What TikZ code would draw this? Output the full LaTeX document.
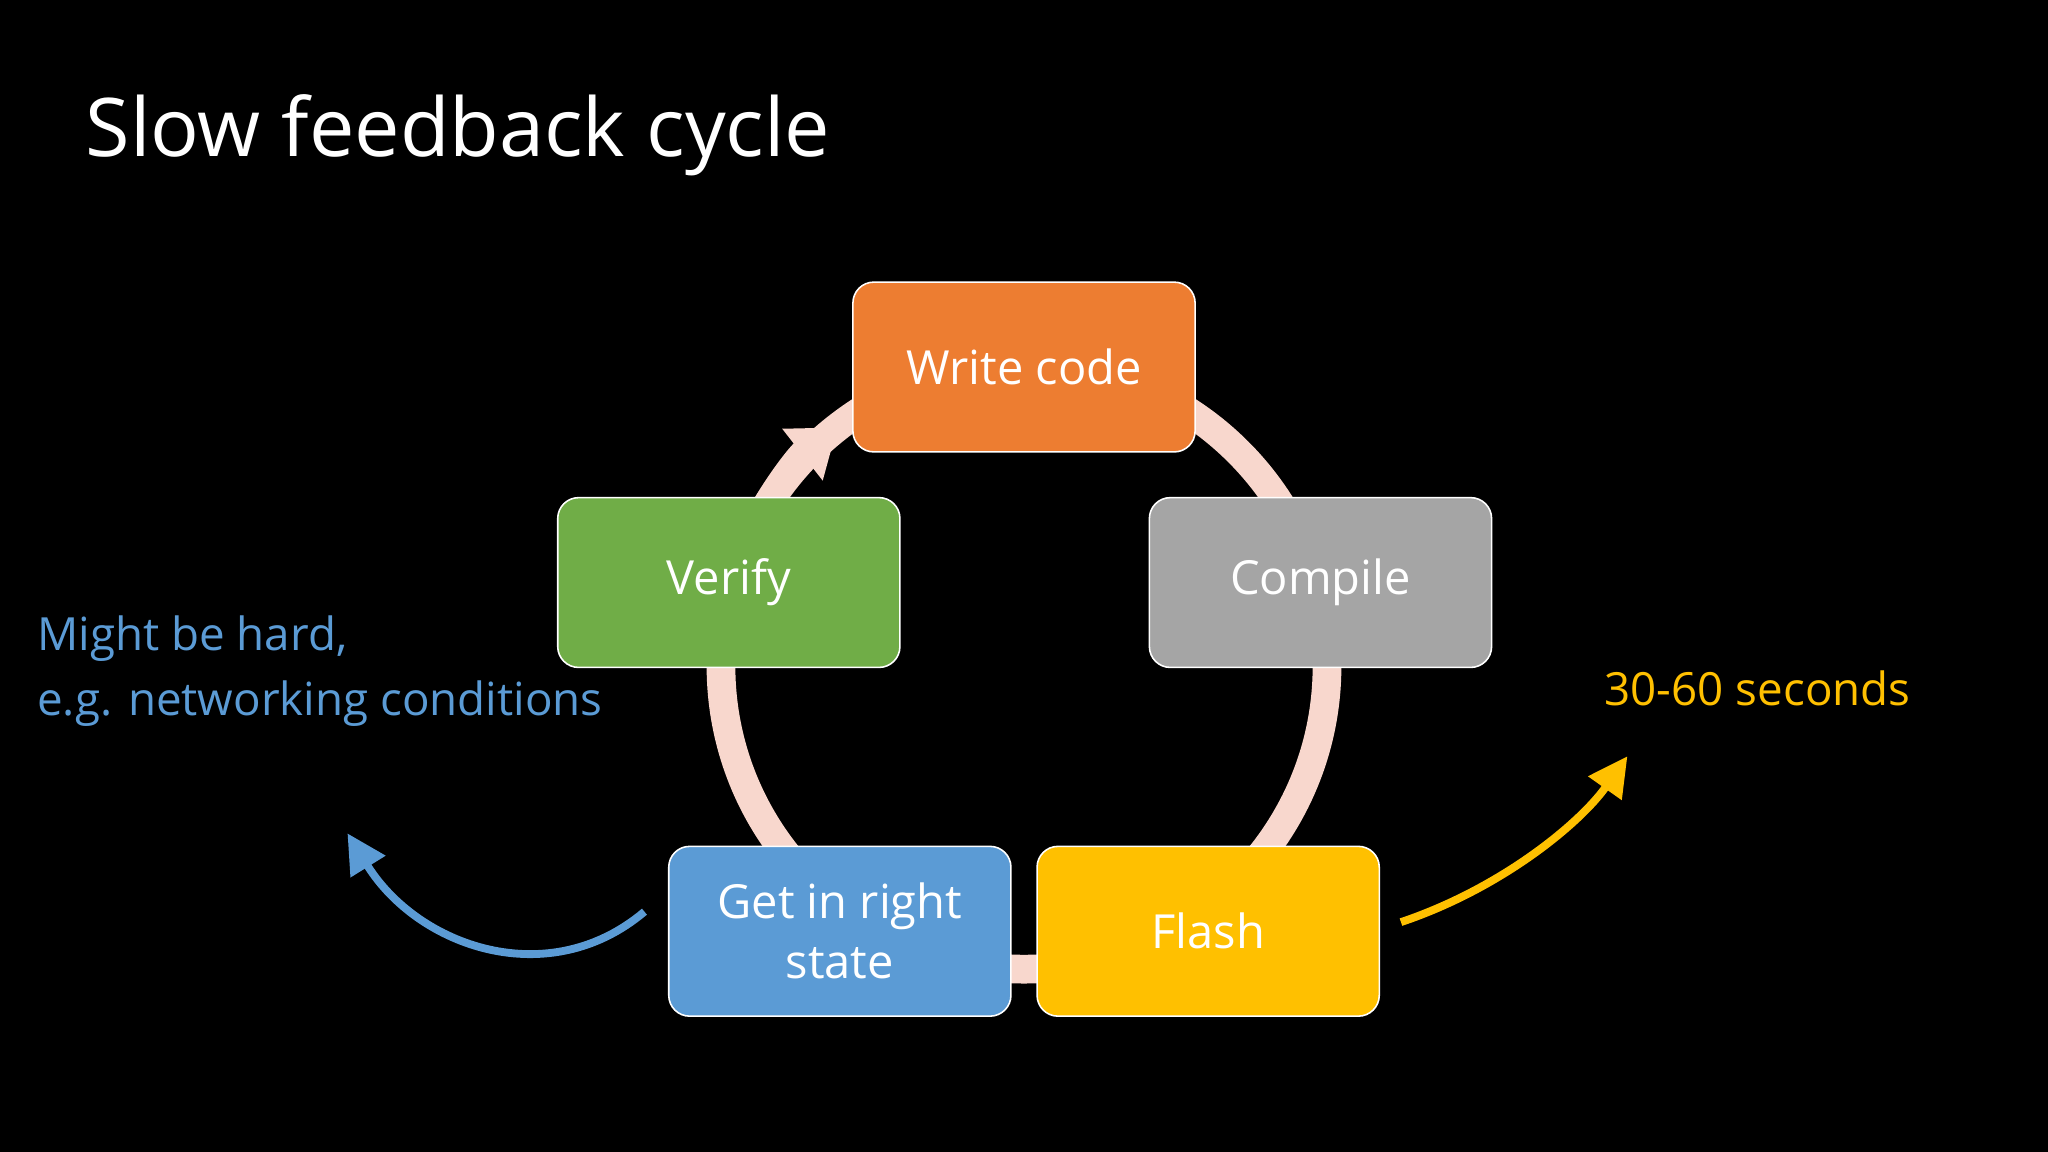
\documentclass[tikz,border=0pt]{standalone}
\usepackage{fontspec}
\setmainfont{Open Sans}
\usetikzlibrary{arrows.meta}
\definecolor{ringc}{RGB}{248,215,205}
\definecolor{orangec}{RGB}{237,125,49}
\definecolor{grayc}{RGB}{165,165,165}
\definecolor{yellowc}{RGB}{255,192,0}
\definecolor{bluec}{RGB}{91,155,213}
\definecolor{greenc}{RGB}{112,173,71}
\begin{document}
\begin{tikzpicture}[x=1pt,y=-1pt,
    box/.style={draw=white, line width=1.2pt, rounded corners=16pt,
        minimum width=262pt, minimum height=130pt, text=white,
        align=center, font=\fontsize{36}{46}\selectfont},
    side/.style={anchor=base west, align=left, font=\fontsize{35}{50}\selectfont},
    ring/.style={ringc, line width=22pt}
]
\fill[black] (0,0) rectangle (1568,882);
\useasboundingbox (0,0) rectangle (1568,882);

\node[anchor=base west, text=white, font=\fontsize{62}{70}\selectfont] (title) at (62,120) {Slow feedback cycle};

% ring behind the boxes
\draw[ring] (784,510) circle[radius=232];
\draw[ringc, line width=22pt, -{Triangle[width=48pt,length=34pt]}]
    (784,510) ++(-155:232) arc[start angle=-155, end angle=-128, radius=232];

\node[box, fill=orangec] (write) at (784,281) {Write code};
\node[box, fill=grayc] (compile) at (1011,446) {Compile};
\node[box, fill=yellowc] (flash) at (925,713) {Flash};
\node[box, fill=bluec] (state) at (643,713) {Get in right\\state};
\node[box, fill=greenc] (verify) at (558,446) {Verify};

\node[side, text=bluec] (hard) at (25,548) {Might be hard,\\e.g. networking conditions};
\node[side, text=yellowc] (secs) at (1225,540) {30-60 seconds};

\coordinate (bluetip) at (266,638);
\coordinate (yellowtip) at (1246,579);
\draw[bluec, line width=6pt, -{Triangle[width=30pt,length=30pt]}]
    ([xshift=-18pt,yshift=15pt]state.west) .. controls (420,760) and (320,725) .. (bluetip);
\draw[yellowc, line width=6pt, -{Triangle[width=30pt,length=30pt]}]
    ([xshift=16pt,yshift=7pt]flash.east) .. controls (1150,680) and (1210,630) .. (yellowtip);
\end{tikzpicture}
\end{document}
